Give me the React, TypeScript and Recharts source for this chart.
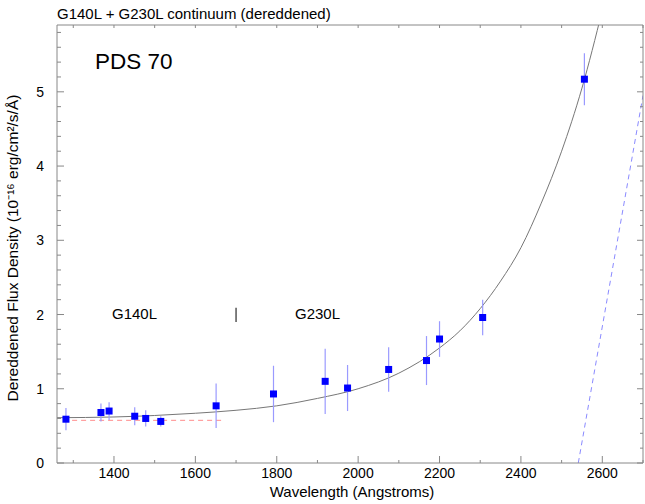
import React from 'react';
import {
  ComposedChart,
  XAxis,
  YAxis,
  Scatter,
  Line,
  ErrorBar,
  ReferenceLine,
} from 'recharts';

// measured continuum points (wavelength in Angstroms, flux in 1e-16 erg/cm2/s/A)
const wavelengths = [1282, 1368, 1388, 1451, 1478, 1515, 1651, 1792, 1919, 1974, 2075, 2168, 2200, 2306, 2556];
const fluxes = [0.59, 0.68, 0.7, 0.63, 0.6, 0.56, 0.77, 0.93, 1.1, 1.01, 1.26, 1.38, 1.67, 1.96, 5.17];
const fluxErrors = [0.15, 0.12, 0.12, 0.12, 0.11, 0.07, 0.3, 0.38, 0.44, 0.31, 0.3, 0.33, 0.24, 0.24, 0.35];

// fitted continuum curve
const fitWavelengths = [1260, 1400, 1500, 1600, 1700, 1800, 1900, 2000, 2100, 2200, 2250, 2300, 2350, 2400, 2450, 2500, 2550, 2600];
const fitFlux = [0.61, 0.62, 0.64, 0.67, 0.71, 0.77, 0.87, 1.0, 1.21, 1.55, 1.78, 2.08, 2.45, 2.9, 3.5, 4.2, 5.05, 6.1];

// red dashed (G140L level) and blue dashed line ends
const redWavelengths = [1275, 1666];
const redFlux = [0.575, 0.575];
const blueWavelengths = [2541, 2700];
const blueFlux = [0, 4.95];

const xTicks = [1300, 1400, 1500, 1600, 1700, 1800, 1900, 2000, 2100, 2200, 2300, 2400, 2500, 2600, 2700];
const yTicks = [
  0, 0.2, 0.4, 0.6, 0.8, 1, 1.2, 1.4, 1.6, 1.8, 2, 2.2, 2.4, 2.6, 2.8, 3,
  3.2, 3.4, 3.6, 3.8, 4, 4.2, 4.4, 4.6, 4.8, 5, 5.2, 5.4, 5.6, 5.8,
];

const AXIS = '#888';
const FONT = '"Liberation Sans", Arial, Helvetica, sans-serif';

const points = wavelengths.map((x, i) => ({ x, y: fluxes[i], err: fluxErrors[i] }));
const fitData = fitWavelengths.map((x, i) => ({ x, y: fitFlux[i] }));
const redData = redWavelengths.map((x, i) => ({ x, y: redFlux[i] }));
const blueData = blueWavelengths.map((x, i) => ({ x, y: blueFlux[i] }));

const BottomTick = (props: any) => {
  const { x, y, payload } = props;
  const major = payload.value % 200 === 0;
  return (
    <g>
      <line x1={x} y1={y} x2={x} y2={y - (major ? 7 : 3)} stroke={AXIS} />
      {major && (
        <text x={x} y={y + 15} textAnchor="middle" fontSize={14} fontFamily={FONT} fill="#000">
          {payload.value}
        </text>
      )}
    </g>
  );
};

const TopTick = (props: any) => {
  const { x, y } = props;
  return <line x1={x} y1={y} x2={x} y2={y + 3} stroke={AXIS} />;
};

const LeftTick = (props: any) => {
  const { x, y, payload } = props;
  const major = Number.isInteger(payload.value);
  return (
    <g>
      <line x1={x} y1={y} x2={x + (major ? 7 : 4)} y2={y} stroke={AXIS} />
      {major && (
        <text x={x - 13} y={y + 5} textAnchor="end" fontSize={14} fontFamily={FONT} fill="#000">
          {payload.value}
        </text>
      )}
    </g>
  );
};

const RightTick = (props: any) => {
  const { x, y, payload } = props;
  const major = Number.isInteger(payload.value);
  return <line x1={x} y1={y} x2={x - (major ? 6 : 3)} y2={y} stroke={AXIS} />;
};

const SquareDot = (props: any) => {
  const { cx, cy } = props;
  return <rect x={cx - 3.5} y={cy - 3.5} width={7} height={7} fill="#0000ff" />;
};

export default function App() {
  return (
    <div style={{ position: 'absolute', left: 0, top: 0, width: 645, height: 504, background: '#fff' }}>
      <ComposedChart width={645} height={504} margin={{ top: 0, right: 0, bottom: 0, left: 0 }}>
        <XAxis
          xAxisId="x"
          dataKey="x"
          type="number"
          domain={[1260, 2700]}
          ticks={xTicks}
          interval={0}
          height={41}
          tickSize={0}
          tickMargin={0}
          tickLine={false}
          tick={BottomTick}
          axisLine={{ stroke: AXIS }}
          allowDataOverflow
        />
        <XAxis
          xAxisId="top"
          dataKey="x"
          orientation="top"
          type="number"
          domain={[1260, 2700]}
          ticks={xTicks}
          interval={0}
          height={25}
          tickSize={0}
          tickMargin={0}
          tickLine={false}
          tick={TopTick}
          axisLine={{ stroke: AXIS }}
          allowDataOverflow
        />
        <YAxis
          yAxisId="y"
          dataKey="y"
          type="number"
          domain={[0, 5.9]}
          ticks={yTicks}
          interval={0}
          width={57}
          tickSize={0}
          tickMargin={0}
          tickLine={false}
          tick={LeftTick}
          axisLine={{ stroke: AXIS }}
          allowDataOverflow
        />
        <YAxis
          yAxisId="right"
          orientation="right"
          type="number"
          domain={[0, 5.9]}
          ticks={yTicks}
          interval={0}
          width={2}
          tickSize={0}
          tickMargin={0}
          tickLine={false}
          tick={RightTick}
          axisLine={{ stroke: AXIS }}
          allowDataOverflow
        />
        <ReferenceLine
          xAxisId="x"
          yAxisId="y"
          segment={[{ x: 1700, y: 1.9 }, { x: 1700, y: 2.09 }]}
          stroke="#555"
          strokeWidth={1.5}
        />
        <Line
          xAxisId="x"
          yAxisId="y"
          data={redData}
          dataKey="y"
          type="linear"
          stroke="#ff8c8c"
          strokeDasharray="5 4"
          dot={false}
          activeDot={false}
          isAnimationActive={false}
        />
        <Line
          xAxisId="x"
          yAxisId="y"
          data={blueData}
          dataKey="y"
          type="linear"
          stroke="#8a8aff"
          strokeDasharray="5 4"
          dot={false}
          activeDot={false}
          isAnimationActive={false}
        />
        <Line
          xAxisId="x"
          yAxisId="y"
          data={fitData}
          dataKey="y"
          type="monotone"
          stroke="#777"
          strokeWidth={1}
          dot={false}
          activeDot={false}
          isAnimationActive={false}
        />
        <Scatter
          xAxisId="x"
          yAxisId="y"
          data={points}
          dataKey="y"
          shape={SquareDot}
          isAnimationActive={false}
        >
          <ErrorBar dataKey="err" direction="y" width={0} stroke="#9a9aff" strokeWidth={1.2} isAnimationActive={false} />
        </Scatter>
      </ComposedChart>
      <svg
        width={645}
        height={504}
        style={{ position: 'absolute', left: 0, top: 0, pointerEvents: 'none' }}
        fontFamily={FONT}
      >
        <text x={57} y={19} fontSize={15} fill="#000">G140L + G230L continuum (dereddened)</text>
        <text x={95} y={69} fontSize={22.5} fill="#000">PDS 70</text>
        <text x={112} y={319} fontSize={15} fill="#000">G140L</text>
        <text x={295} y={319} fontSize={15} fill="#000">G230L</text>
        <text x={352} y={497} fontSize={15} textAnchor="middle" fill="#000">Wavelength (Angstroms)</text>
        <text
          x={0}
          y={0}
          fontSize={15.5}
          textAnchor="middle"
          fill="#000"
          transform="translate(18, 248) rotate(-90)"
        >
          Dereddened Flux Density (10⁻¹⁶ erg/cm²/s/Å)
        </text>
      </svg>
    </div>
  );
}
